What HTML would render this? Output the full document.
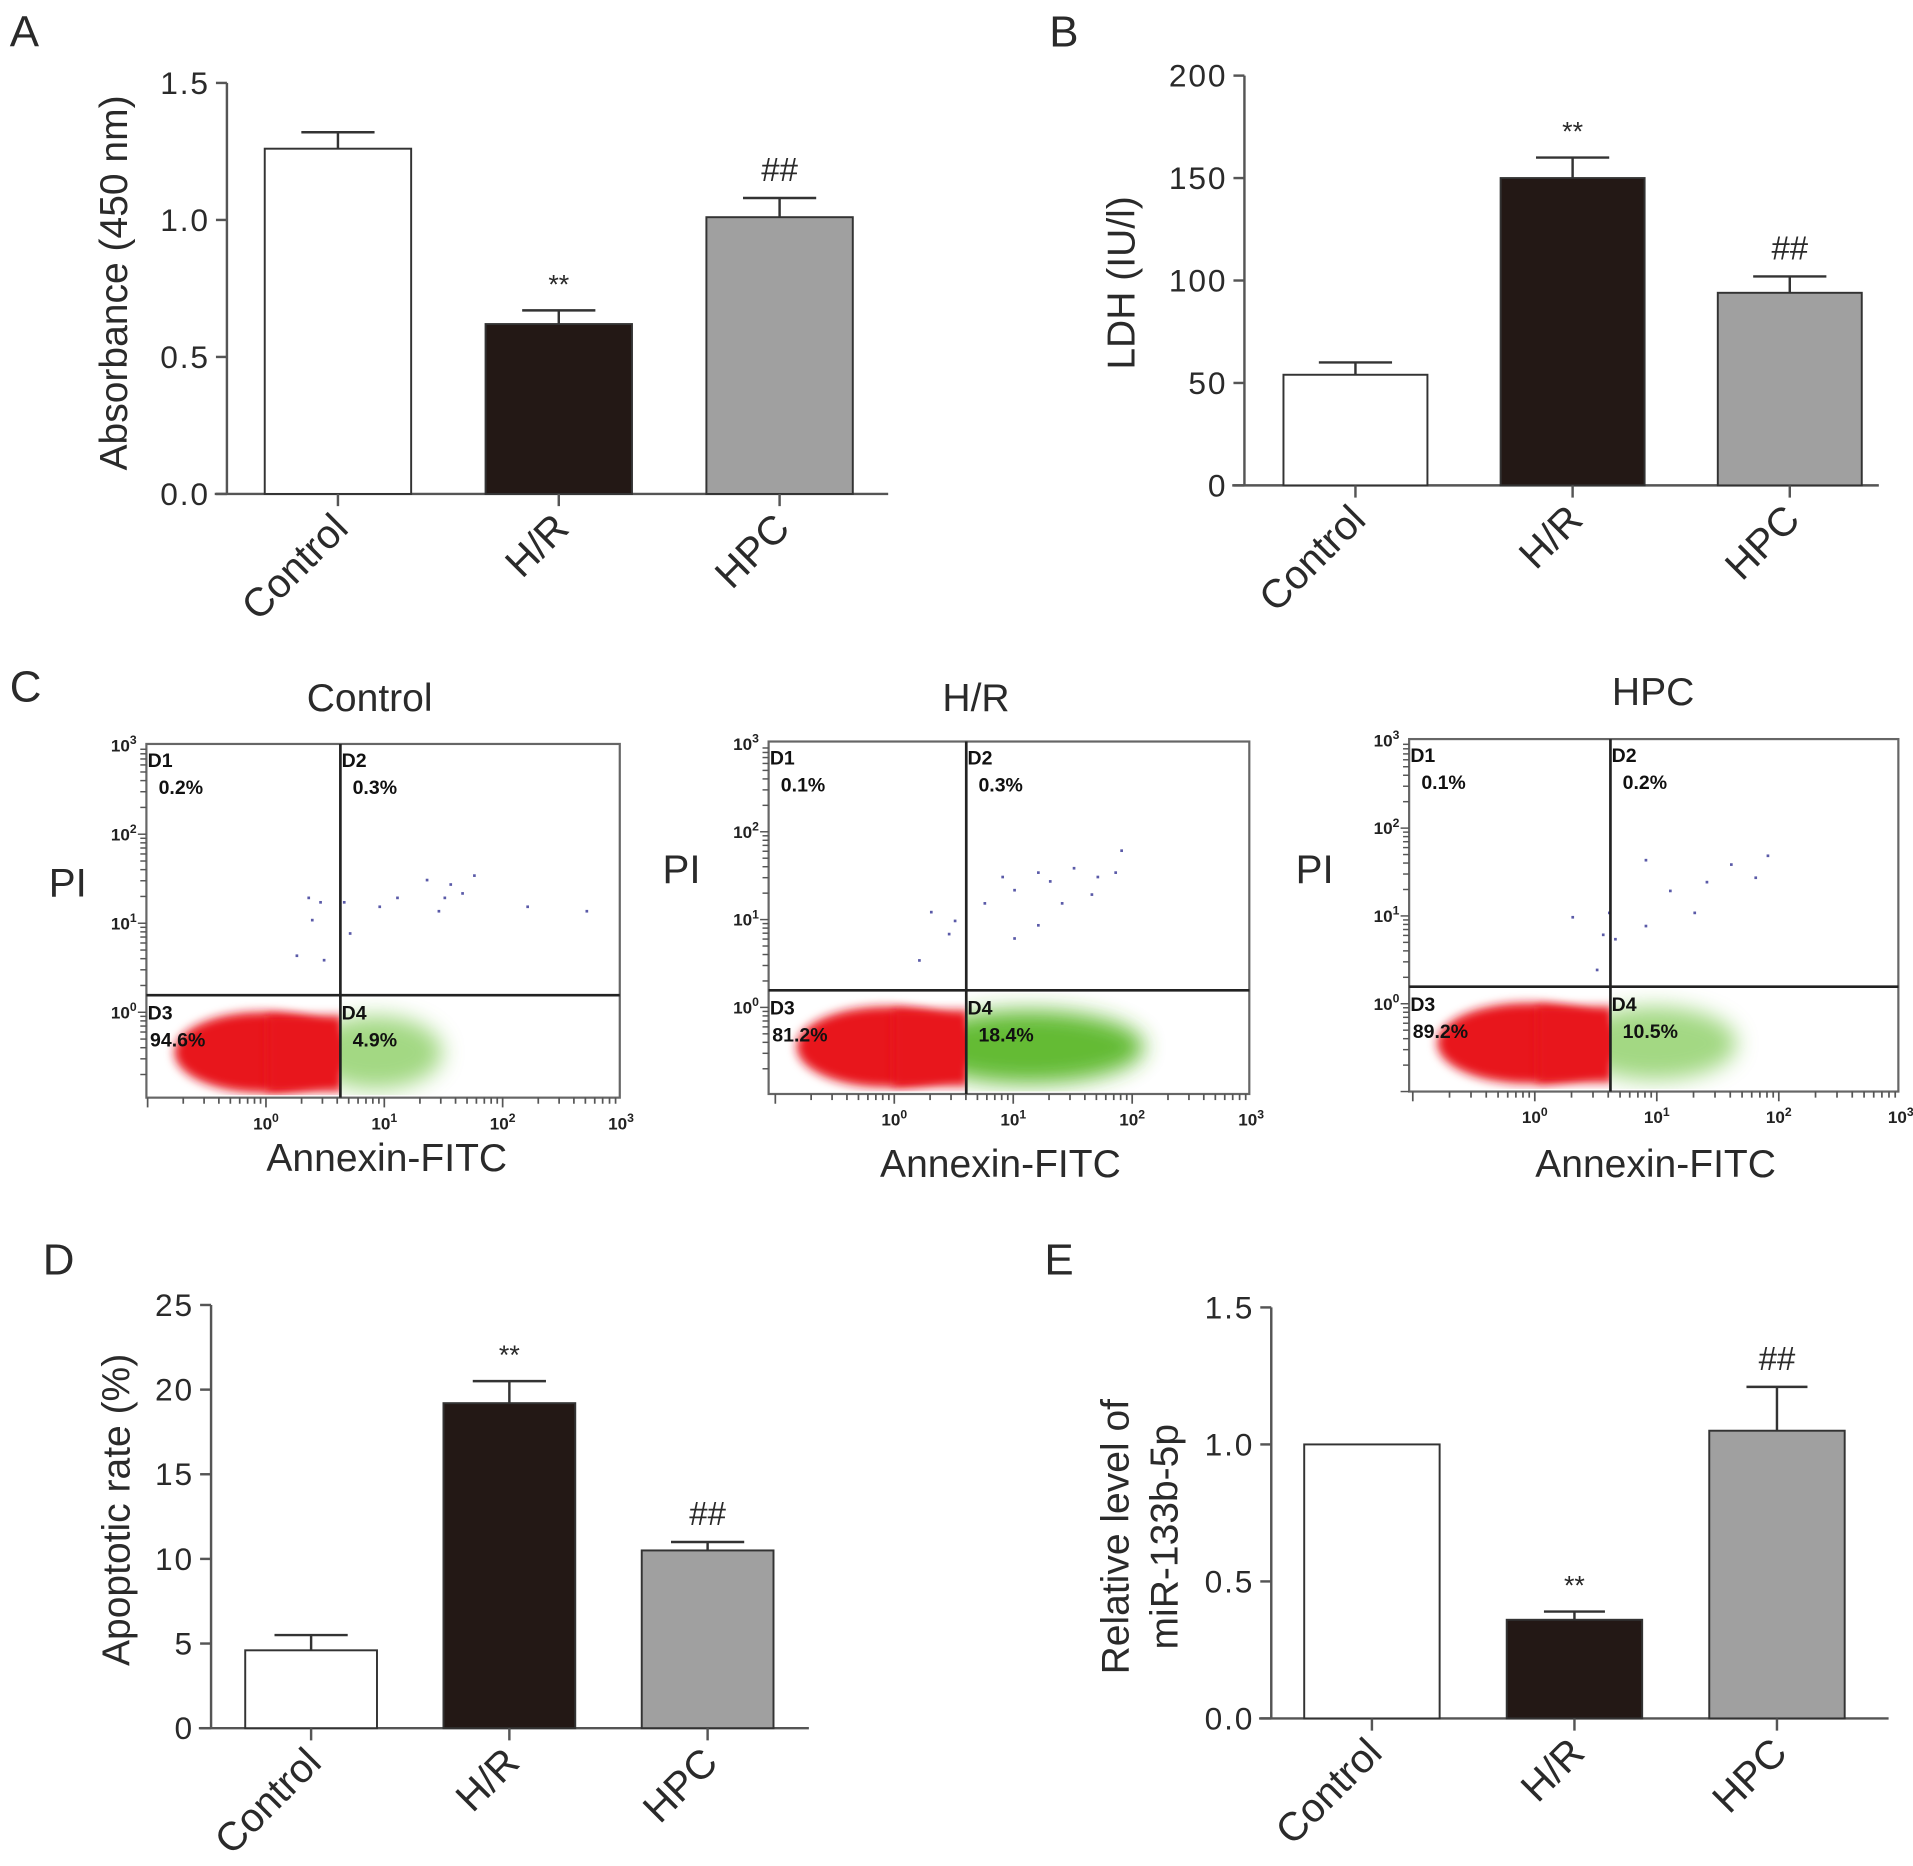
<!DOCTYPE html>
<html><head><meta charset="utf-8"><style>
html,body{margin:0;padding:0;background:#fff}
svg{display:block;font-family:"Liberation Sans",Arial,sans-serif}
</style></head><body>
<svg id="fig" width="1913" height="1866" viewBox="0 0 1568 1530" preserveAspectRatio="none">
<defs>
<filter id="blur" x="-20%" y="-30%" width="140%" height="160%"><feGaussianBlur stdDeviation="4"/></filter>
<filter id="blur2" x="-30%" y="-40%" width="160%" height="180%"><feGaussianBlur stdDeviation="9"/></filter>
</defs>
<g id="root"></g>
</svg>
<script>
// ---------- bar chart data ----------
const categories = ["Control", "H/R", "HPC"];
const aMeans = [1.26, 0.62, 1.01];
const aErrs = [0.06, 0.05, 0.07];
const aTicks = [0, 0.5, 1.0, 1.5];
const aTickLabels = ["0.0", "0.5", "1.0", "1.5"];
const aMarks = ["", "**", "##"];
const bMeans = [54, 150, 94];
const bErrs = [6, 10, 8];
const bTicks = [0, 50, 100, 150, 200];
const bTickLabels = ["0", "50", "100", "150", "200"];
const bMarks = ["", "**", "##"];
const dMeans = [4.6, 19.2, 10.5];
const dErrs = [0.9, 1.3, 0.5];
const dTicks = [0, 5, 10, 15, 20, 25];
const dTickLabels = ["0", "5", "10", "15", "20", "25"];
const dMarks = ["", "**", "##"];
const eMeans = [1.0, 0.36, 1.05];
const eErrs = [0.0, 0.03, 0.16];
const eTicks = [0, 0.5, 1.0, 1.5];
const eTickLabels = ["0.0", "0.5", "1.0", "1.5"];
const eMarks = ["", "**", "##"];
// ---------- flow data ----------
const flowTitles = ["Control", "H/R", "HPC"];
const flowQuadPct = [["0.2%","0.3%","94.6%","4.9%"],["0.1%","0.3%","81.2%","18.4%"],["0.1%","0.2%","89.2%","10.5%"]];
// sparse events in decades (log10 annexin, log10 PI)
const flowSparse = [
 [[0.35,1.3],[0.45,1.25],[0.65,1.25],[0.38,1.05],[0.25,0.65],[0.48,0.6],[0.95,1.2],[1.1,1.3],[1.35,1.5],[1.55,1.45],[1.65,1.35],[1.75,1.55],[1.45,1.15],[2.2,1.2],[2.7,1.15],[1.5,1.3],[0.7,0.9]],
 [[0.3,1.1],[0.5,1.0],[0.45,0.85],[0.2,0.55],[0.9,1.5],[1.0,1.35],[1.2,1.55],[1.3,1.45],[1.5,1.6],[1.7,1.5],[1.85,1.55],[1.65,1.3],[1.2,0.95],[1.0,0.8],[1.9,1.8],[1.4,1.2],[0.75,1.2]],
 [[0.55,0.8],[0.6,1.05],[0.3,1.0],[0.65,0.75],[0.9,1.65],[1.1,1.3],[1.4,1.4],[1.6,1.6],[1.8,1.45],[1.9,1.7],[1.3,1.05],[0.9,0.9],[0.5,0.4]]
];
const flowGreenW = [0.75, 1.3, 0.9];

const NS = "http://www.w3.org/2000/svg";
const root = document.getElementById("root");
function el(tag, attrs, parent, txt) {
  const e = document.createElementNS(NS, tag);
  for (const k in attrs) e.setAttribute(k, attrs[k]);
  if (txt !== undefined) e.textContent = txt;
  (parent || root).appendChild(e);
  return e;
}
const TXT = "#2a2a2a", AX = "#555";
const fills = ["#ffffff", "#231815", "#a0a0a0"];

function barChart(id, cfg, means, errs, ticks, tickLabels, marks) {
  const g = el("g", {});
  
  
  const y = v => cfg.yBot - (v - cfg.min) / (cfg.max - cfg.min) * (cfg.yBot - cfg.yTop);
  const pl = el("text", {x: cfg.lx, y: cfg.ly, "font-size": 36, fill: TXT}, g, cfg.letter);
  
  
  const ya = el("line", {x1: cfg.x0, y1: cfg.yTop, x2: cfg.x0, y2: cfg.yBot, stroke: AX, "stroke-width": 2}, g);
  
  
  ticks.forEach((t, i) => {
    const tk = el("line", {x1: cfg.x0 - 9, y1: y(t), x2: cfg.x0, y2: y(t), stroke: AX, "stroke-width": 2}, g);
    
    
    const tl = el("text", {x: cfg.x0 - 14, y: y(t) + 9, "text-anchor": "end", "font-size": 26, "letter-spacing": 1.5, fill: TXT}, g, tickLabels[i]);
    
    
  });
  const xa = el("line", {x1: cfg.x0 - 10, y1: cfg.yBot, x2: cfg.xEnd, y2: cfg.yBot, stroke: AX, "stroke-width": 2}, g);
  
  
  const tt = el("text", {transform: `translate(${cfg.tx},${cfg.ty}) rotate(-90)`, "text-anchor": "middle", "font-size": 32, fill: TXT}, g);
  
  
  cfg.title.forEach((line, i) => { el("tspan", {x: 0, dy: i === 0 ? 0 : 40}, tt, line); });
  means.forEach((m, i) => {
    const left = cfg.first + i * cfg.step, cx = left + cfg.w / 2;
    const r = el("rect", {x: left, y: y(m), width: cfg.w, height: cfg.yBot - y(m), fill: fills[i], stroke: "#333", "stroke-width": 1.6}, g);
    
    
    const top = y(m + errs[i]);
    if (errs[i] > 0) {
      const eb = el("path", {d: `M${cx},${y(m)} V${top} M${cx - cfg.cap / 2},${top} H${cx + cfg.cap / 2}`, stroke: "#333", "stroke-width": 2, fill: "none"}, g);
      
      
    }
    if (marks[i]) {
      const mk = el("text", {x: cx, y: top - 14, "text-anchor": "middle", "font-size": marks[i] === "**" ? 22 : 27, fill: TXT}, g, marks[i]);
      
      
    }
    const xt = el("line", {x1: cx, y1: cfg.yBot, x2: cx, y2: cfg.yBot + 10, stroke: AX, "stroke-width": 2}, g);
    
    
    const xl = el("text", {transform: `translate(${cx + 10},${cfg.yBot + 30}) rotate(-45)`, "text-anchor": "end", "font-size": 33, fill: TXT}, g, categories[i]);
    
    
  });
}

barChart("panel-a", {letter: "A", lx: 8, ly: 38, x0: 186, yTop: 68, yBot: 405, xEnd: 728, min: 0, max: 1.5, first: 217, step: 181, w: 120, cap: 60, tx: 104, ty: 232, title: ["Absorbance (450 nm)"]}, aMeans, aErrs, aTicks, aTickLabels, aMarks);
barChart("panel-b", {letter: "B", lx: 860, ly: 38, x0: 1020, yTop: 62, yBot: 398, xEnd: 1540, min: 0, max: 200, first: 1052, step: 178, w: 118, cap: 60, tx: 930, ty: 232, title: ["LDH (IU/l)"]}, bMeans, bErrs, bTicks, bTickLabels, bMarks);
barChart("panel-d", {letter: "D", lx: 35, ly: 1045, x0: 173, yTop: 1070, yBot: 1417, xEnd: 663, min: 0, max: 25, first: 201, step: 162.5, w: 108, cap: 60, tx: 106, ty: 1238, title: ["Apoptotic rate (%)"]}, dMeans, dErrs, dTicks, dTickLabels, dMarks);
barChart("panel-e", {letter: "E", lx: 856, ly: 1045, x0: 1042, yTop: 1072, yBot: 1409, xEnd: 1548, min: 0, max: 1.5, first: 1069, step: 166, w: 111, cap: 50, tx: 925, ty: 1260, title: ["Relative level of", "miR-133b-5p"]}, eMeans, eErrs, eTicks, eTickLabels, eMarks);

// ---------- flow plots ----------
const cl = el("text", {x: 8, y: 575, "font-size": 36, fill: TXT}, root, "C");


const boxes = [
  {x1: 120, x2: 508, y1: 610, y2: 900, qx: 279, qy: 816, xd0: 218, xdec: 97, yd0: 830, ydec: 73, tx: 303, ty: 583, pix: 40, piy: 735, ax: 317, ay: 960},
  {x1: 630, x2: 1024, y1: 608, y2: 897, qx: 792, qy: 812, xd0: 733, xdec: 97.5, yd0: 826, ydec: 72, tx: 800, ty: 583, pix: 543, piy: 724, ax: 820, ay: 965},
  {x1: 1155, x2: 1556, y1: 606, y2: 895, qx: 1320, qy: 809, xd0: 1258, xdec: 100, yd0: 823, ydec: 72, tx: 1355, ty: 578, pix: 1062, piy: 724, ax: 1357, ay: 965}
];
boxes.forEach((b, k) => {
  const g = el("g", {});
  
  
  const X = v => b.xd0 + v * b.xdec, Y = v => b.yd0 - v * b.ydec;
  const t = el("text", {x: b.tx, y: b.ty, "text-anchor": "middle", "font-size": 32, fill: TXT}, g, flowTitles[k]);
  
  
  const pi = el("text", {x: b.pix, y: b.piy, "font-size": 33, fill: TXT}, g, "PI");
  
  
  const an = el("text", {x: b.ax, y: b.ay, "text-anchor": "middle", "font-size": 32, fill: TXT}, g, "Annexin-FITC");
  
  
  const clip = el("clipPath", {id: "cl" + k}, g);
  el("rect", {x: b.x1, y: b.qy + 2, width: b.qx - b.x1, height: b.y2 - b.qy - 4}, clip);
  const clip2 = el("clipPath", {id: "cg" + k}, g);
  el("rect", {x: b.qx, y: b.qy + 2, width: b.x2 - b.qx, height: b.y2 - b.qy - 4}, clip2);
  const gw = flowGreenW[k];
  const cg = el("g", {"clip-path": `url(#cg${k})`}, g);
  const ge = el("ellipse", {cx: b.qx + gw * b.xdec * 0.4, cy: Y(-0.45), rx: gw * b.xdec * 0.75, ry: 30, fill: k === 1 ? "#5cb82a" : "#7cc850", opacity: k === 1 ? 0.95 : 0.7, filter: "url(#blur2)"}, cg);
  
  
  const cr = el("g", {"clip-path": `url(#cl${k})`}, g);
  const re = el("ellipse", {cx: (b.x1 + b.qx) / 2 + 15, cy: Y(-0.45), rx: (b.qx - b.x1) / 2 - 8, ry: 33, fill: "#e8121a", filter: "url(#blur)"}, cr);
  
  
  el("rect", {x: b.qx - 60, y: Y(-0.45) - 30, width: 62, height: 62, fill: "#e8121a", filter: "url(#blur)"}, cr);
  flowSparse[k].forEach(p => {
    const d = el("rect", {x: X(p[0]), y: Y(p[1]), width: 2.2, height: 2.2, fill: "#5a5aa8"}, g);
    
    
  });
  const fr = el("rect", {x: b.x1, y: b.y1, width: b.x2 - b.x1, height: b.y2 - b.y1, fill: "none", stroke: "#666", "stroke-width": 1.8}, g);
  
  
  const q = el("path", {d: `M${b.qx},${b.y1} V${b.y2} M${b.x1},${b.qy} H${b.x2}`, stroke: "#222", "stroke-width": 2.2, fill: "none"}, g);
  
  
  const labs = [["D1", b.x1 + 1, b.y1 + 19], ["D2", b.qx + 1, b.y1 + 19], ["D3", b.x1 + 1, b.qy + 20], ["D4", b.qx + 1, b.qy + 20]];
  labs.forEach((l, i) => {
    const a = el("text", {x: l[1], y: l[2], "font-size": 16, "font-weight": "bold", fill: "#111"}, g, l[0]);
    
    
    const p = el("text", {x: l[1] + (i === 2 ? 2 : 9), y: l[2] + 22, "font-size": 16, "font-weight": "bold", fill: "#111"}, g, flowQuadPct[k][i]);
    
    
  });
  for (let dcd = 0; dcd <= 3; dcd++) {
    const yl = el("text", {x: b.x1 - 8, y: Y(dcd) + 5, "text-anchor": "end", "font-size": 14, "font-weight": "bold", fill: "#222"}, g);
    
    
    el("tspan", {}, yl, "10");
    el("tspan", {dy: -6, "font-size": 10}, yl, String(dcd));
    const xl = el("text", {x: X(dcd), y: b.y2 + 26, "text-anchor": "middle", "font-size": 14, "font-weight": "bold", fill: "#222"}, g);
    
    
    el("tspan", {}, xl, "10");
    el("tspan", {dy: -6, "font-size": 10}, xl, String(dcd));
  }
  for (let dcd = -1; dcd < 3; dcd++) for (let m = 1; m <= 9; m++) {
    const v = dcd + Math.log10(m);
    const yy = Y(v);
    if (yy <= b.y2 && yy >= b.y1) el("line", {x1: b.x1 - (m === 1 ? 7 : 5), y1: yy, x2: b.x1, y2: yy, stroke: "#555", "stroke-width": 1.2}, g);
    const xx = X(v);
    if (xx >= b.x1 && xx <= b.x2) el("line", {x1: xx, y1: b.y2, x2: xx, y2: b.y2 + (m === 1 ? 8 : 5), stroke: "#555", "stroke-width": 1.4}, g);
  }
});
</script>
</body></html>
